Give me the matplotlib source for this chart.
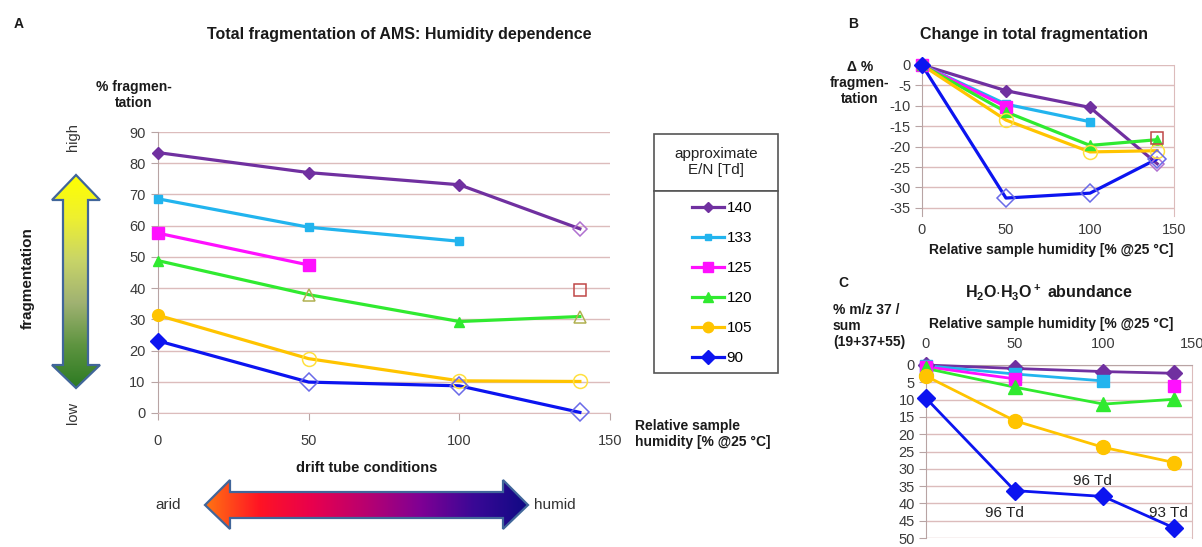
import numpy as np
import matplotlib
matplotlib.use("Agg")
from matplotlib import pyplot as plt
from matplotlib.colors import LinearSegmentedColormap
from matplotlib.lines import Line2D
from matplotlib.patches import Polygon, Rectangle

plt.rcParams['font.family'] = ['Liberation Sans', 'DejaVu Sans']
plt.rcParams['axes.unicode_minus'] = False
plt.rcParams['mathtext.fontset'] = 'custom'
plt.rcParams['mathtext.rm'] = 'Liberation Sans'
plt.rcParams['mathtext.bf'] = 'Liberation Sans:bold'

W, H = 1202, 547

# ---- data ----
humidity = [0, 50, 100, 140]
energies = ['140', '133', '125', '120', '105', '90']

# panel A: total fragmentation [%]
a_140 = [83.4, 77.0, 73.1, 59.0]
a_133 = [68.6, 59.5, 55.0]
a_125 = [57.6, 47.4]
a_120 = [48.8, 37.9, 29.3, 30.9]
a_105 = [31.3, 17.4, 10.3, 10.1]
a_90 = [23.1, 9.9, 8.7, 0.2]
a_125_extra = 39.5   # single point at 140 %

# panel B: change in total fragmentation
b_140 = [0, -6.3, -10.4, -24.2]
b_133 = [0, -9.6, -13.9]
b_125 = [0, -10.2]
b_120 = [0, -11.5, -19.7, -18.3]
b_105 = [0, -13.5, -21.3, -21.0]
b_90 = [0, -32.6, -31.4, -23.0]
b_125_extra = -17.9

# panel C: m/z 37 share
c_140 = [0.0, 1.0, 1.9, 2.4]
c_133 = [0.2, 2.6, 4.6]
c_125 = [0.5, 4.0]
c_120 = [1.0, 6.4, 11.3, 9.9]
c_105 = [3.2, 16.1, 23.8, 28.2]
c_90 = [9.6, 36.3, 38.0, 47.1]
c_125_extra = 6.0
c_notes = ['96 Td', '96 Td', '93 Td']

# open (hollow) markers per series
open_a = {'140': [0, 0, 0, 1], '133': [0, 0, 0], '125': [0, 0],
          '120': [0, 1, 0, 1], '105': [0, 1, 1, 1], '90': [0, 1, 1, 1]}
open_b = {'140': [0, 0, 0, 1], '133': [0, 0, 0], '125': [0, 0],
          '120': [0, 0, 0, 0], '105': [0, 1, 1, 1], '90': [0, 1, 1, 1]}

colors = {'140': '#7030a0', '133': '#22b4ee', '125': '#ff10ff',
          '120': '#30ea30', '105': '#ffc400', '90': '#0c14f0'}
open_colors = {'140': '#b070d0', '133': '#22b4ee', '125': '#c04848',
               '120': '#b0b050', '105': '#ffe040', '90': '#6a6ae8'}
markers = {'140': 'D', '133': 's', '125': 's', '120': '^', '105': 'o', '90': 'D'}
msize_a = {'140': 6, '133': 6, '125': 8.5, '120': 7.5, '105': 8.5, '90': 8}
msize_c = {'140': 8, '133': 8, '125': 9, '120': 10, '105': 10, '90': 9.5}

grid_col = '#dcbcbc'
axis_col = '#b8a4a4'
tick_col = '#3a3a3a'


def px(x, y):
    return x / W, 1 - y / H


def rect(x0, y0, x1, y1):
    return [x0 / W, 1 - y1 / H, (x1 - x0) / W, (y1 - y0) / H]


def style_axes(ax):
    for s in ax.spines.values():
        s.set_visible(False)
    ax.spines['left'].set_visible(True)
    ax.spines['left'].set_color(axis_col)
    ax.grid(axis='y', color=grid_col, lw=1)
    ax.set_axisbelow(True)
    ax.tick_params(colors=axis_col, labelcolor=tick_col, labelsize=10.5)


def draw_series(ax, x, y, key, ms, opened, lw):
    ax.plot(x[:len(y)], y, color=colors[key], lw=lw, zorder=3, clip_on=False)
    for i, (xi, yi) in enumerate(zip(x, y)):
        if opened is not None and opened[key][i]:
            ax.plot(xi, yi, markers[key], ms=ms + 1.5, mfc='none',
                    mec=open_colors[key], mew=1.1, zorder=4, clip_on=False)
        else:
            ax.plot(xi, yi, markers[key], ms=ms, color=colors[key],
                    mec=colors[key], zorder=4, clip_on=False)


fig = plt.figure(figsize=(W / 100, H / 100), dpi=100)

# overlay for the decorative arrows
ov = fig.add_axes([0, 0, 1, 1])
ov.set_xlim(0, W)
ov.set_ylim(H, 0)
ov.axis('off')


def gradient_arrow(pts, cmap, vertical):
    poly = Polygon(pts, closed=True, fc='none', ec='#41669a', lw=1.6, zorder=3)
    ov.add_patch(poly)
    xs = [p[0] for p in pts]
    ys = [p[1] for p in pts]
    grad = np.linspace(0, 1, 256)
    img = grad.reshape(-1, 1) if vertical else grad.reshape(1, -1)
    im = ov.imshow(img, cmap=cmap, aspect='auto', zorder=2,
                   extent=(min(xs), max(xs), max(ys), min(ys)))
    im.set_clip_path(poly)


green_cmap = LinearSegmentedColormap.from_list(
    'g', ['#ffff00', '#eef030', '#c8d468', '#a0b272', '#5e9440', '#2c7a22'])
red_cmap = LinearSegmentedColormap.from_list(
    'r', ['#ff7412', '#ff1424', '#e8004e', '#b80070', '#800094', '#3a0896', '#100a84'])

gradient_arrow([(76, 175), (100, 200), (88, 200), (88, 365), (100, 365), (76, 388),
                (52, 365), (63, 365), (63, 200), (52, 200)], green_cmap, True)
gradient_arrow([(205, 505), (230, 480), (230, 492), (503, 492), (503, 480), (528, 505),
                (503, 529), (503, 518), (230, 518), (230, 529)], red_cmap, False)

# ---- panel A ----
axA = fig.add_axes(rect(158, 132, 610, 413))
style_axes(axA)
axA.spines['bottom'].set_visible(True)
axA.spines['bottom'].set_color(grid_col)
axA.set_xlim(0, 150)
axA.set_ylim(0, 90)
axA.set_xticks([0, 50, 100, 150])
axA.set_yticks(np.arange(0, 91, 10))
axA.tick_params(axis='y', length=5, pad=4)
axA.tick_params(axis='x', length=5, pad=10)
for key, vals in zip(energies, [a_140, a_133, a_125, a_120, a_105, a_90]):
    draw_series(axA, humidity, vals, key, msize_a[key], open_a, 2.3)
axA.plot(humidity[3], a_125_extra, 's', ms=9, mfc='none', mec=open_colors['125'],
         mew=1.1, zorder=4)

# ---- panel B ----
axB = fig.add_axes(rect(922, 65, 1174, 216))
style_axes(axB)
axB.spines['right'].set_visible(True)
axB.spines['right'].set_color(grid_col)
axB.set_xlim(0, 150)
axB.set_ylim(-37, 0)
axB.set_xticks([0, 50, 100, 150])
axB.set_yticks(np.arange(-35, 1, 5))
axB.tick_params(axis='y', length=5, pad=3)
axB.tick_params(axis='x', length=0, pad=5)
for key, vals in zip(energies, [b_140, b_133, b_125, b_120, b_105, b_90]):
    draw_series(axB, humidity, vals, key, msize_a[key], open_b, 2.3)
axB.plot(humidity[3], b_125_extra, 's', ms=9, mfc='none', mec=open_colors['125'],
         mew=1.1, zorder=4)

# ---- panel C ----
axC = fig.add_axes(rect(926, 365, 1192, 538))
style_axes(axC)
axC.spines['top'].set_visible(True)
axC.spines['top'].set_color(axis_col)
axC.spines['right'].set_visible(True)
axC.spines['right'].set_color(grid_col)
axC.set_xlim(0, 150)
axC.set_ylim(50, 0)
axC.set_xticks([0, 50, 100, 150])
axC.set_yticks(np.arange(0, 51, 5))
axC.xaxis.tick_top()
axC.tick_params(axis='y', length=5, pad=3)
axC.tick_params(axis='x', length=0, pad=10)
for key, vals in zip(energies, [c_140, c_133, c_125, c_120, c_105, c_90]):
    draw_series(axC, humidity, vals, key, msize_c[key], None, 2.0)
axC.plot(humidity[3], c_125_extra, 's', ms=9, color=colors['125'], zorder=4)
axC.text(44, 42.8, c_notes[0], ha='center', va='center', fontsize=11, color='#222222')
axC.text(93.6, 33.5, c_notes[1], ha='center', va='center', fontsize=11, color='#222222')
axC.text(136.5, 42.7, c_notes[2], ha='center', va='center', fontsize=11, color='#222222')

# ---- legend ----
ov.add_patch(Rectangle((654, 134), 124, 57, fc='white', ec='#555555', lw=1.2, zorder=3))
ov.add_patch(Rectangle((654, 191), 124, 182, fc='white', ec='#555555', lw=1.2, zorder=3))
ov.text(716, 162, 'approximate\nE/N [Td]', ha='center', va='center', fontsize=11,
        color='#222222', linespacing=1.1, zorder=4)
handles = [Line2D([], [], color=colors[k], lw=2.3, marker=markers[k],
                  ms=msize_a[k] - 1) for k in energies]
fig.legend(handles, energies, loc='center', bbox_to_anchor=px(722, 283),
           frameon=False, fontsize=11, labelspacing=1.05, handlelength=2.1,
           handletextpad=0.15)

# ---- free texts ----
bold = dict(fontweight='bold', color='#1a1a1a')
ov.text(14, 24, 'A', fontsize=10, va='center', **bold)
ov.text(399, 35, 'Total fragmentation of AMS: Humidity dependence', fontsize=11.5,
        ha='center', va='center', **bold)
ov.text(134, 95, '% fragmen-\ntation', fontsize=10, ha='center', va='center',
        linespacing=1.15, **bold)
ov.text(73, 137, 'high', fontsize=10.5, rotation=90, ha='center', va='center', color='#333333')
ov.text(73, 413, 'low', fontsize=10.5, rotation=90, ha='center', va='center', color='#333333')
ov.text(28, 278, 'fragmentation', fontsize=11, rotation=90, ha='center', va='center', **bold)
ov.text(635, 434, 'Relative sample\nhumidity [% @25 \u00b0C]', fontsize=10, ha='left',
        va='center', linespacing=1.15, **bold)
ov.text(367, 468, 'drift tube conditions', fontsize=10.5, ha='center', va='center', **bold)
ov.text(168, 505, 'arid', fontsize=11, ha='center', va='center', color='#333333')
ov.text(555, 505, 'humid', fontsize=11, ha='center', va='center', color='#333333')

ov.text(848, 24, 'B', fontsize=10, va='center', **bold)
ov.text(1034, 34, 'Change in total fragmentation', fontsize=11.5, ha='center',
        va='center', **bold)
ov.text(860, 83, '\u0394 %\nfragmen-\ntation', fontsize=10, ha='center', va='center',
        linespacing=1.2, **bold)
ov.text(1051, 250, 'Relative sample humidity [% @25 \u00b0C]', fontsize=10,
        ha='center', va='center', **bold)

ov.text(838, 283, 'C', fontsize=10, va='center', **bold)
ov.text(1049, 292, r'$\mathbf{H_2O{\cdot}H_3O^+}$ abundance', fontsize=11.5,
        ha='center', va='center', **bold)
ov.text(833, 326, '% m/z 37 /\nsum\n(19+37+55)', fontsize=10, ha='left', va='center',
        linespacing=1.15, **bold)
ov.text(1051, 324, 'Relative sample humidity [% @25 \u00b0C]', fontsize=10,
        ha='center', va='center', **bold)

fig.savefig('out.png', dpi=100)
